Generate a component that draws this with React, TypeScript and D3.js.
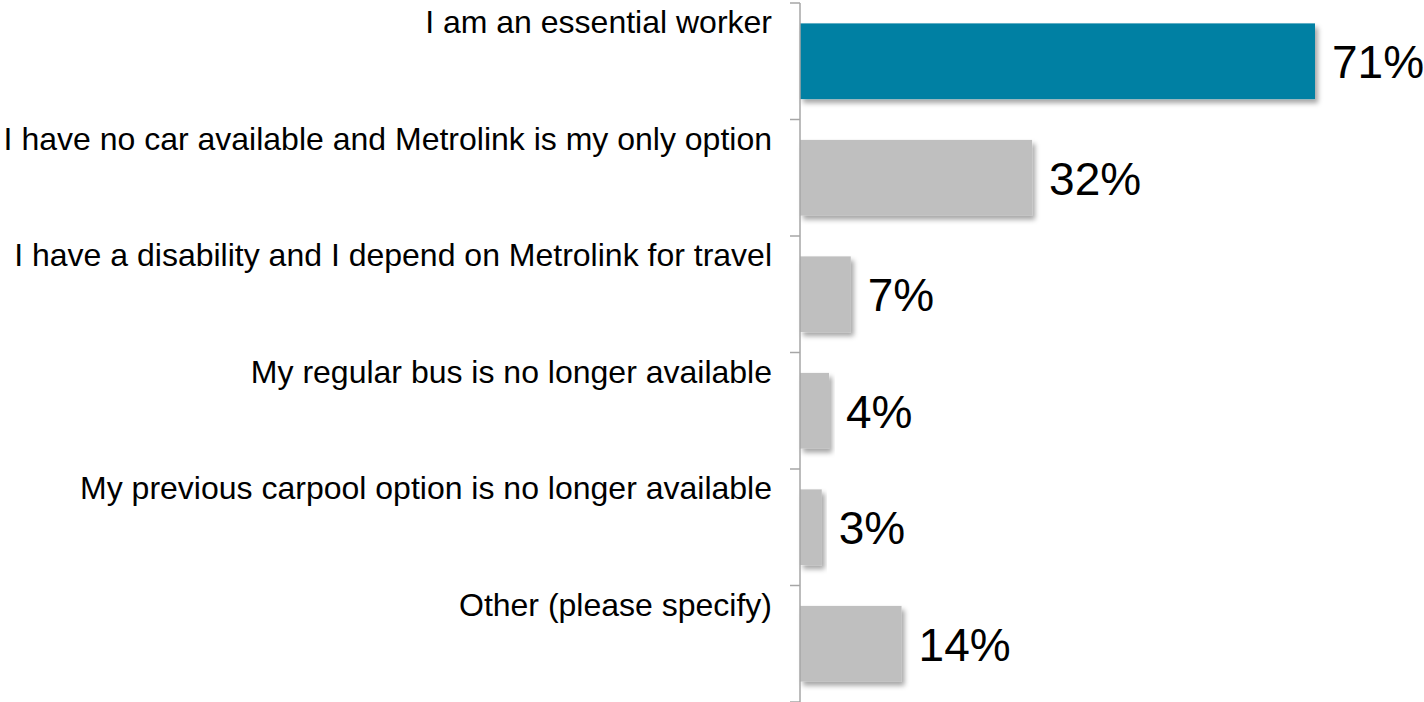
import * as d3 from 'd3'
import React from 'react'

const categories = [
  'I am an essential worker',
  'I have no car available and Metrolink is my only option',
  'I have a disability and I depend on Metrolink for travel',
  'My regular bus is no longer available',
  'My previous carpool option is no longer available',
  'Other (please specify)'
]
const values = [71, 32, 7, 4, 3, 14]
const barColors = ['#0080A3', '#BFBFBF', '#BFBFBF', '#BFBFBF', '#BFBFBF', '#BFBFBF']

const width = 1424
const height = 702
const axisX = 800

const App = () => {
  // 7.25px per percent
  const x = d3.scaleLinear().domain([0, 71]).range([axisX, 1315])
  const y = d3.scaleBand<string>().domain(categories).range([3, 702]).paddingInner(0.35).paddingOuter(0.175)
  const band = d3.scaleBand<string>().domain(categories).range([3, 702])
  const tickYs = categories.map((c) => band(c) as number).concat([702])

  return (
    <svg
      width={ width }
      height={ height }
      style={ { position: 'absolute', left: 0, top: 0, fontFamily: 'Liberation Sans, Arial, sans-serif' } }
    >
      <defs>
        <filter id='shadow' x='-10%' y='-10%' width='130%' height='140%'>
          <feDropShadow dx='3' dy='4' stdDeviation='2.5' floodColor='#000' floodOpacity='0.35' />
        </filter>
      </defs>

      {/* bars */}
      { categories.map((c, i) => (
        <rect
          key={ c }
          x={ x(0) }
          y={ y(c) }
          width={ x(values[i]) - x(0) }
          height={ y.bandwidth() }
          fill={ barColors[i] }
          filter='url(#shadow)'
        />
      )) }

      {/* axis line and ticks */}
      <line x1={ axisX } x2={ axisX } y1={ 3 } y2={ 702 } stroke='#A6A6A6' strokeWidth={ 1.5 } />
      { tickYs.map((t, i) => (
        <line key={ i } x1={ axisX - 10 } x2={ axisX } y1={ t } y2={ t } stroke='#A6A6A6' strokeWidth={ 1.5 } />
      )) }

      {/* category labels */}
      { categories.map((c) => (
        <text
          key={ c }
          x={ 772 }
          y={ (band(c) as number) + 30 }
          textAnchor='end'
          fontSize={ 32 }
          fill='#000'
        >
          { c }
        </text>
      )) }

      {/* value labels */}
      { categories.map((c, i) => (
        <text
          key={ c }
          x={ x(values[i]) + 17 }
          y={ (y(c) as number) + y.bandwidth() / 2 + 17 }
          textAnchor='start'
          fontSize={ 46 }
          fill='#000'
        >
          { values[i] }%
        </text>
      )) }
    </svg>
  )
}

export default App
